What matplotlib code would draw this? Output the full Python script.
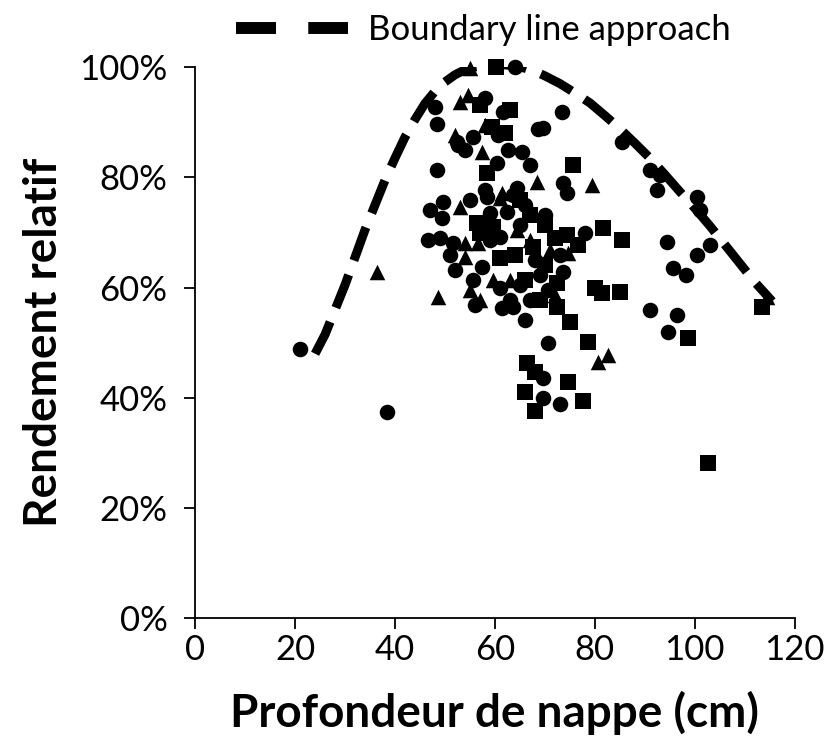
import matplotlib
matplotlib.use("Agg")
import matplotlib.pyplot as plt
from matplotlib.lines import Line2D
from matplotlib.ticker import FuncFormatter

plt.rcParams['font.family'] = ['Lato', 'DejaVu Sans']

# water table depth (cm) and relative yield (%) for the three groups
circle_x = [21.0, 38.4, 64.0, 48.0, 48.4, 48.4, 58.0, 61.6, 73.4, 68.6, 69.6,
            55.6, 52.4, 54.0, 62.6, 65.4, 60.6, 60.4, 67.0, 85.4, 91.0, 93.0,
            92.4, 73.6, 74.4, 100.4, 101.0, 94.4, 103.0, 100.4, 95.6, 98.2,
            91.0, 96.4, 94.6, 56.0, 61.4, 63.6, 66.0, 70.6, 69.6, 69.6, 73.0,
            49.6, 47.0, 49.4, 46.6, 49.0, 51.6, 51.0, 52.0, 55.6, 57.4, 55.0,
            58.4, 59.0, 62.4, 61.0, 59.0, 61.0, 64.4, 58.0, 52.6, 73.6, 78.0,
            63.6, 66.0, 65.0, 70.0, 68.0, 65.0, 63.0, 67.0, 70.6, 73.0, 69.0]
circle_y = [48.8, 37.4, 100.0, 92.7, 89.7, 81.3, 94.4, 91.8, 91.8, 88.7, 88.9,
            87.3, 86.4, 84.9, 84.9, 84.6, 87.7, 82.6, 82.2, 86.4, 81.3, 80.4,
            77.7, 78.9, 77.1, 76.4, 74.0, 68.2, 67.7, 65.9, 63.5, 62.3,
            55.9, 55.0, 51.9, 56.8, 56.3, 56.4, 54.1, 49.9, 43.6, 39.9, 38.8,
            75.5, 74.0, 72.6, 68.6, 69.0, 68.1, 65.9, 63.2, 61.3, 63.7, 75.9,
            76.4, 73.5, 73.7, 69.1, 68.6, 59.9, 78.0, 77.7, 85.8, 62.8, 69.9,
            76.8, 75.0, 71.3, 73.1, 65.0, 60.4, 57.7, 57.7, 59.5, 65.9, 62.3]

square_x = [60.2, 57.0, 63.0, 59.4, 62.0, 58.4, 75.6, 81.6, 85.4, 85.0, 81.4,
            98.6, 113.4, 72.4, 75.0, 78.6, 66.4, 68.0, 74.6, 66.0, 68.0, 77.6,
            102.6, 56.4, 59.6, 57.0, 72.0, 74.4, 76.6, 80.0, 67.6, 65.0,
            67.0, 70.0, 64.0, 70.0, 66.0, 72.4, 69.0, 61.0]
square_y = [100.0, 93.1, 92.2, 89.1, 88.0, 80.8, 82.2, 70.8, 68.6, 59.2, 59.0,
            50.8, 56.4, 56.4, 53.7, 50.1, 46.3, 44.6, 42.8, 41.0, 37.7, 39.4,
            28.1, 71.7, 71.0, 69.9, 69.0, 69.5, 67.7, 59.9, 67.3, 75.9,
            73.1, 71.3, 65.9, 64.1, 61.3, 60.8, 57.7, 65.3]

triangle_x = [55.0, 53.0, 54.6, 52.0, 58.0, 57.4, 68.4, 79.4, 36.4, 48.6, 80.6,
              82.6, 114.4, 53.0, 61.0, 54.0, 56.6, 54.0, 55.0, 59.6, 61.4,
              74.6, 64.4, 67.0, 71.0, 72.0, 57.0, 63.0]
triangle_y = [99.8, 93.6, 94.9, 87.7, 89.5, 84.6, 79.1, 78.6, 62.8, 58.3, 46.5,
              47.7, 58.3, 74.6, 76.2, 68.1, 68.1, 65.5, 59.5, 61.3, 77.1,
              66.2, 70.4, 68.6, 66.8, 58.6, 57.7, 61.3]

# boundary line
boundary_x = [24, 26, 28, 30, 32, 34, 36, 38, 40, 42, 44, 46, 48, 50, 52, 54,
              56, 58, 60, 62, 64, 66, 68, 70, 73, 76, 79, 82, 85, 88, 91, 94,
              97, 100, 103, 106, 109, 112, 115.5]
boundary_y = [48, 51.5, 56, 60.5, 65.5, 70.5, 75, 79.5, 83.5, 87.3, 90.5, 93.4,
              95.6, 97.3, 98.6, 99.5, 100, 100.3, 100.4, 100.4, 100.2, 99.8,
              99.2, 98.4, 97, 95.3, 93.5, 91.2, 88.8, 86.2, 83.5, 80.5, 77.4,
              74.4, 71.2, 67.8, 64.4, 61, 57.5]

fig = plt.figure(figsize=(8.27, 7.45), dpi=100)
ax = fig.add_axes([0.236, 0.170, 0.725, 0.740])

ax.plot(boundary_x, boundary_y, color='black', lw=6.5, dashes=(3.9, 1.7),
        dash_capstyle='butt', zorder=2)

ax.scatter(circle_x, circle_y, s=125, marker='o', color='black',
           linewidths=0, clip_on=False, zorder=3)
ax.scatter(square_x, square_y, s=125, marker='s', color='black',
           linewidths=0, clip_on=False, zorder=3)
ax.scatter(triangle_x, triangle_y, s=125, marker='^', color='black',
           linewidths=0, clip_on=False, zorder=3)

ax.set_xlim(0, 120)
ax.set_ylim(0, 100)
ax.set_xticks(range(0, 121, 20))
ax.set_yticks(range(0, 101, 20))
ax.yaxis.set_major_formatter(FuncFormatter(lambda v, p: f"{v:.0f}%"))

for side in ['top', 'right']:
    ax.spines[side].set_visible(False)
for side in ['left', 'bottom']:
    ax.spines[side].set_linewidth(1.3)
ax.tick_params(direction='out', length=8, width=1.3, labelsize=25)
ax.tick_params(axis='x', pad=3)
ax.tick_params(axis='y', pad=12)

ax.set_xlabel("Profondeur de nappe (cm)", fontsize=33, fontweight='bold', labelpad=18)
ax.set_ylabel("Rendement relatif", fontsize=33, fontweight='bold', labelpad=10)

handle = Line2D([0], [0], color='black', lw=8.6, dashes=(3.35, 2.7),
                dash_capstyle='butt')
fig.legend([handle], ["Boundary line approach"], loc='center',
           bbox_to_anchor=(0.585, 1 - 30 / 745), frameon=False, fontsize=25,
           handlelength=3.2, handletextpad=0.6)

fig.savefig("out.png", dpi=100)
